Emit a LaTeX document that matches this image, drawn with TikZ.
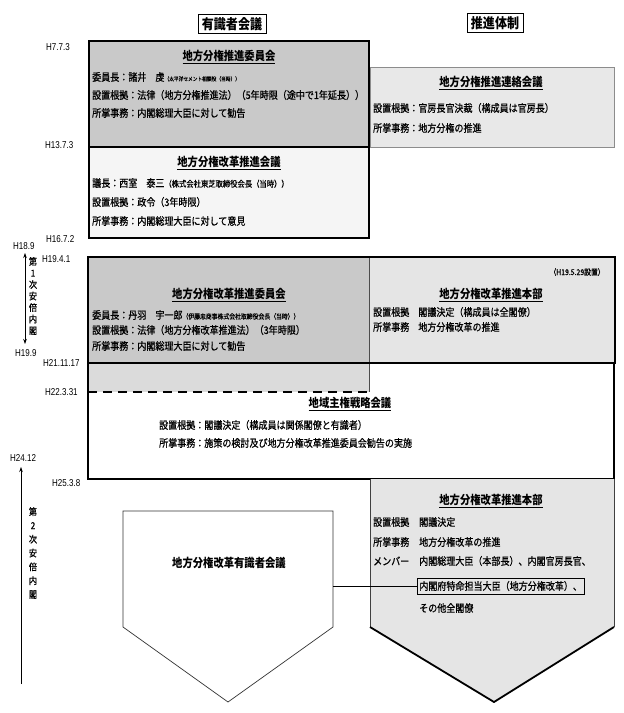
\documentclass[tikz,border=0pt]{standalone}
\usepackage{fontspec}
\setmainfont[FakeStretch=0.86]{Noto Sans CJK JP}
\newfontfamily\bodyfont[FakeStretch=0.86, FakeBold=0.7]{Noto Sans CJK JP}
\newfontfamily\dtfont[FakeStretch=0.8]{Liberation Sans}
\usetikzlibrary{arrows.meta}
\definecolor{gA}{gray}{0.79}
\definecolor{gB}{gray}{0.91}
\definecolor{gC}{gray}{0.96}
\definecolor{gD}{gray}{0.90}
\definecolor{gE}{gray}{0.86}
\tikzset{
  thickbox/.style={draw=black, line width=1.8pt},
  hdr/.style={draw=black, line width=0.7pt, fill=white, inner xsep=4pt, inner ysep=3pt, font=\fontsize{14}{16}\selectfont\bfseries},
  ttl/.style={inner sep=0pt, font=\fontsize{12}{14}\selectfont\bfseries},
  body/.style={anchor=west, inner sep=0pt, font=\bodyfont\fontsize{10.5}{12}\selectfont},
  small/.style={anchor=east, inner sep=0pt, font=\bodyfont\fontsize{8}{9}\selectfont},
  datelbl/.style={anchor=west, inner sep=0pt, font=\dtfont\fontsize{10}{11}\selectfont},
  vtext/.style={inner sep=0pt, align=center, font=\bodyfont\fontsize{9.5}{#1}\selectfont},
  arr/.style={line width=0.6pt, -{Stealth[length=5pt,width=3.5pt]}},
  darr/.style={line width=0.6pt, {Stealth[length=5pt,width=3.5pt]}-{Stealth[length=5pt,width=3.5pt]}},
  conn/.style={draw=black, line width=0.8pt}
}
\begin{document}
\begin{tikzpicture}[x=1pt,y=-1pt]
\useasboundingbox (0,0) rectangle (624,713);
\fill[white] (0,0) rectangle (624,713);

% headers
\node[hdr] (h1) at (232,24) {有識者会議};
\node[hdr] (h2) at (495,23) {推進体制};

% right box A
\draw[draw=black!45, line width=0.8pt, fill=gB] (370,67) rectangle (614,147);
% box 1
\draw[thickbox, fill=gA] (89,41) rectangle (369,147);
% box 2
\draw[thickbox, fill=gC] (89,147) rectangle (369,238);

% box 3
\fill[gA] (88,257) rectangle (369,363);
\fill[gD] (369,257) rectangle (615,363);
\draw[black!70, line width=0.6pt] (369,257) -- (369,363);
\draw[thickbox] (88,257) rectangle (615,363);

% box 4
\fill[gE] (88,363) rectangle (369,392);
\draw[black!70, line width=0.6pt] (369,363) -- (369,392);
\draw[black, line width=1.6pt, dash pattern=on 9pt off 6pt] (88,392) -- (369,392);
\draw[thickbox] (88,363) rectangle (614,479);

% box 5 (right pentagon)
\fill[gD] (370,479) -- (614,479) -- (614,627) -- (494,702) -- (370,627) -- cycle;
\draw[black!75, line width=0.8pt] (370,479) -- (370,627);
\draw[black!75, line width=0.8pt] (614,479) -- (614,627);
\draw[black, line width=1.8pt, line join=round] (370,627) -- (494,702) -- (614,627);

% left pentagon
\draw[black!80, line width=0.7pt, fill=white] (123,511) -- (333,511) -- (333,627) -- (228,702) -- (123,627) -- cycle;
\coordinate (lpR) at (333,586);

% dates
\node[datelbl] (d1) at (46,47) {H7.7.3};
\node[datelbl] (d2) at (45,145) {H13.7.3};
\node[datelbl] (d3) at (46,239) {H16.7.2};
\node[datelbl] (d4) at (13,246) {H18.9};
\node[datelbl] (d5) at (42,259) {H19.4.1};
\node[datelbl] (d6) at (15,353) {H19.9};
\node[datelbl] (d7) at (43,363) {H21.11.17};
\node[datelbl] (d8) at (45,392) {H22.3.31};
\node[datelbl] (d9) at (10,458) {H24.12};
\node[datelbl] (d10) at (52,483) {H25.3.8};

% cabinet arrows
\coordinate (a1t) at (25,253);
\coordinate (a1b) at (25,344);
\draw[darr] (a1b) -- (a1t);
\node[vtext=11.5] (v1) at (33,296) {第\\1\\次\\安\\倍\\内\\閣};
\coordinate (a2t) at (21,467);
\coordinate (a2b) at (21,684);
\draw[arr] (a2b) -- (a2t);
\node[vtext=13.8] (v2) at (33,553) {第\\2\\次\\安\\倍\\内\\閣};

% box 1 text
\node[ttl] (t1) at (229,57) {\underline{地方分権推進委員会}};
\node[body] (b1a) at (92,77) {委員長：諸井　虔{\fontsize{5.5}{6}\selectfont（太平洋セメント相談役（当時））}};
\node[body] (b1b) at (92,95) {設置根拠：法律（地方分権推進法）（5年時限（途中で1年延長））};
\node[body] (b1c) at (92,113) {所掌事務：内閣総理大臣に対して勧告};

% right box A text
\node[ttl] (t2) at (491,83) {\underline{地方分権推進連絡会議}};
\node[body] (b2a) at (373,108) {設置根拠：官房長官決裁（構成員は官房長）};
\node[body] (b2b) at (373,128) {所掌事務：地方分権の推進};

% box 2 text
\node[ttl] (t3) at (229,163) {\underline{地方分権改革推進会議}};
\node[body] (b3a) at (92,183) {議長：西室　泰三{\fontsize{8.5}{9}\selectfont（株式会社東芝取締役会長（当時））}};
\node[body] (b3b) at (92,202) {設置根拠：政令（3年時限）};
\node[body] (b3c) at (92,221) {所掌事務：内閣総理大臣に対して意見};

% box 3 text
\node[ttl] (t4) at (229,295) {\underline{地方分権改革推進委員会}};
\node[body] (b4a) at (92,315) {委員長：丹羽　宇一郎{\fontsize{6.8}{8}\selectfont（伊藤忠商事株式会社取締役会長（当時））}};
\node[body] (b4b) at (92,330) {設置根拠：法律（地方分権改革推進法）（3年時限）};
\node[body] (b4c) at (92,346) {所掌事務：内閣総理大臣に対して勧告};
\node[small] (n5) at (605,272) {（H19.5.29設置）};
\node[ttl] (t5) at (491,295) {\underline{地方分権改革推進本部}};
\node[body] (b5a) at (373,312) {設置根拠　閣議決定（構成員は全閣僚）};
\node[body] (b5b) at (373,327) {所掌事務　地方分権改革の推進};

% box 4 text
\node[ttl] (t6) at (350,404) {\underline{地域主権戦略会議}};
\node[body] (b6a) at (159,425) {設置根拠：閣議決定（構成員は関係閣僚と有識者）};
\node[body] (b6b) at (159,443) {所掌事務：施策の検討及び地方分権改革推進委員会勧告の実施};

% left pentagon text
\node[ttl] (p1) at (229,563) {地方分権改革有識者会議};

% box 5 text
\node[ttl] (t7) at (491,501) {\underline{地方分権改革推進本部}};
\node[body] (b7a) at (373,522) {設置根拠};
\node[body] (b7av) at (419,522) {閣議決定};
\node[body] (b7b) at (373,542) {所掌事務};
\node[body] (b7bv) at (419,542) {地方分権改革の推進};
\node[body] (b7c) at (373,561) {メンバー};
\node[body] (b7cv) at (419,561) {内閣総理大臣（本部長）、内閣官房長官、};
\node[body, draw=black, line width=0.8pt, inner xsep=2pt, inner ysep=3pt] (memb) at (417,586) {内閣府特命担当大臣（地方分権改革）、};
\node[body] (b7e) at (419,608) {その他全閣僚};

% connector
\draw[conn] (lpR) -- (memb.west);
\end{tikzpicture}
\end{document}
